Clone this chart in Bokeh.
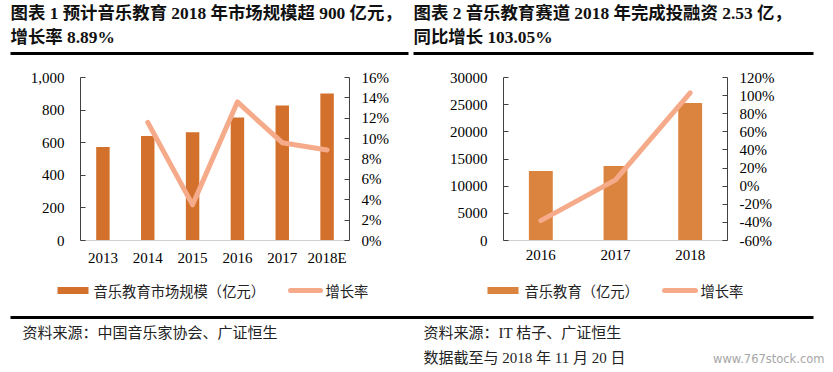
from bokeh.plotting import figure
from bokeh.models import (Range1d, FactorRange, LinearAxis, FixedTicker, NumeralTickFormatter,
                          ColumnDataSource)
from bokeh.layouts import column, row
from bokeh.core.properties import value
from bokeh.embed import file_html
from bokeh.resources import INLINE

# ---------------- data ----------------
years1 = ["2013", "2014", "2015", "2016", "2017", "2018E"]
market1 = [574, 641, 664, 754, 828, 902]
growth_years1 = ["2014", "2015", "2016", "2017", "2018E"]
growth1 = [0.116, 0.035, 0.136, 0.096, 0.0889]

years2 = ["2016", "2017", "2018"]
invest2 = [12800, 13700, 25300]
growth2 = [-0.38, 0.069, 1.0305]

y1_ticks = [0, 200, 400, 600, 800, 1000]
y1r_ticks = [0, 0.02, 0.04, 0.06, 0.08, 0.10, 0.12, 0.14, 0.16]
y2_ticks = [0, 5000, 10000, 15000, 20000, 25000, 30000]
y2r_ticks = [-0.6, -0.4, -0.2, 0, 0.2, 0.4, 0.6, 0.8, 1.0, 1.2]

title1_a = "图表 1 预计音乐教育 2018 年市场规模超 900 亿元，"
title1_b = "增长率 8.89%"
title2_a = "图表 2 音乐教育赛道 2018 年完成投融资 2.53 亿，"
title2_b = "同比增长 103.05%"
legend1 = ["音乐教育市场规模（亿元）", "增长率"]
legend2 = ["音乐教育（亿元）", "增长率"]
source1 = "资料来源：中国音乐家协会、广证恒生"
source2 = "资料来源：IT 桔子、广证恒生"
note2 = "数据截至与 2018 年 11 月 20 日"
watermark = "www.767stock.com"

# ---------------- style ----------------
SERIF = "Liberation Serif, Noto Sans CJK SC"
CJK = "Noto Sans CJK SC, Liberation Serif"
BAR1 = "#D3702C"
BAR2 = "#DB8440"
LINE = "#F5AA8A"
AXIS = "#404040"


def blank(width, height, y0, y1):
    p = figure(width=width, height=height, x_range=Range1d(0, width),
               y_range=Range1d(y1, y0), output_backend="svg", toolbar_location=None,
               x_axis_type=None, y_axis_type=None, title=None, min_border=0)
    p.min_border_left = p.min_border_right = p.min_border_top = p.min_border_bottom = 0
    p.outline_line_color = None
    p.grid.visible = False
    return p


# ---------------- header ----------------
header = blank(825, 58, 0, 58)
header.text(x=[10, 10, 413, 413], y=[12.5, 36, 12.5, 36],
            text=[title1_a, title1_b, title2_a, title2_b],
            text_font=value(SERIF), text_font_style="bold", text_font_size="17.4px",
            text_color="#111111", text_baseline="middle", text_align="left")
header.segment(x0=[10, 413], y0=[53, 53], x1=[408, 813], y1=[53, 53],
               line_color="black", line_width=3)


def style_axes(p, left_axis, right_axis):
    xa = p.xaxis[0]
    xa.axis_line_color = "#d0d0d0"
    xa.major_tick_line_color = None
    xa.minor_tick_line_color = None
    xa.major_label_standoff = 3
    xa.major_label_text_font = SERIF
    xa.major_label_text_font_size = "15px"
    xa.major_label_text_color = "black"
    for ax, st in ((left_axis, 16), (right_axis, 12)):
        ax.axis_line_color = AXIS
        ax.major_tick_line_color = AXIS
        ax.major_tick_in = 5
        ax.major_tick_out = 0
        ax.minor_tick_line_color = None
        ax.major_label_standoff = st
        ax.major_label_text_font = SERIF
        ax.major_label_text_font_size = "15px"
        ax.major_label_text_color = "black"
    p.grid.visible = False
    p.outline_line_color = None


# ---------------- chart 1 ----------------
p1 = figure(width=412, height=217, x_range=FactorRange(*years1), y_range=Range1d(0, 1000),
            output_backend="svg", toolbar_location=None, title=None,
            min_border_left=80, min_border_right=63, min_border_top=19, min_border_bottom=35)
p1.extra_y_ranges = {"pct": Range1d(0, 0.16)}
src1 = ColumnDataSource(dict(x=years1, y=market1))
b1 = p1.vbar(x="x", top="y", width=0.3, source=src1, fill_color=BAR1, line_color=None)
l1 = p1.line(x=growth_years1, y=growth1, y_range_name="pct", line_color=LINE, line_width=5,
             line_join="round", line_cap="round")
p1.yaxis[0].ticker = FixedTicker(ticks=y1_ticks)
p1.yaxis[0].formatter = NumeralTickFormatter(format="0,0")
r1 = LinearAxis(y_range_name="pct", ticker=FixedTicker(ticks=y1r_ticks),
                formatter=NumeralTickFormatter(format="0%"))
p1.add_layout(r1, "right")
style_axes(p1, p1.yaxis[0], r1)

# ---------------- chart 2 ----------------
p2 = figure(width=413, height=217, x_range=FactorRange(*years2), y_range=Range1d(0, 30000),
            output_backend="svg", toolbar_location=None, title=None,
            min_border_left=91, min_border_right=98, min_border_top=19, min_border_bottom=34)
p2.extra_y_ranges = {"pct": Range1d(-0.6, 1.2)}
src2 = ColumnDataSource(dict(x=years2, y=invest2))
b2 = p2.vbar(x="x", top="y", width=0.32, source=src2, fill_color=BAR2, line_color=None)
l2 = p2.line(x=years2, y=growth2, y_range_name="pct", line_color=LINE, line_width=5,
             line_join="round", line_cap="round")
p2.yaxis[0].ticker = FixedTicker(ticks=y2_ticks)
p2.yaxis[0].formatter = NumeralTickFormatter(format="0")
r2 = LinearAxis(y_range_name="pct", ticker=FixedTicker(ticks=y2r_ticks),
                formatter=NumeralTickFormatter(format="0%"))
p2.add_layout(r2, "right")
style_axes(p2, p2.yaxis[0], r2)

# ---------------- legends + footer ----------------
footer = blank(825, 92, 275, 367)
# legend swatches
footer.quad(left=[57, 487], right=[88, 518], top=[286.5, 286.5], bottom=[293.5, 293.5],
            fill_color=[BAR1, BAR2], line_color=None)
footer.segment(x0=[290, 664], y0=[290, 290], x1=[320, 695], y1=[290, 290],
               line_color=LINE, line_width=5, line_cap="round")
footer.text(x=[93, 325, 524, 700], y=[290, 290, 290, 290],
            text=[legend1[0], legend1[1], legend2[0], legend2[1]],
            text_font=value(CJK), text_font_size="14.3px", text_color="#222222",
            text_baseline="middle", text_align="left")
# rule and sources
footer.segment(x0=[10], y0=[317], x1=[813], y1=[317], line_color="black", line_width=3)
footer.text(x=[22, 423, 423], y=[332, 332, 357], text=[source1, source2, note2],
            text_font=value(SERIF), text_font_size="15px", text_color="#222222",
            text_baseline="middle", text_align="left")
footer.text(x=[824], y=[358], text=[watermark], text_font=value("DejaVu Sans"),
            text_font_size="11.5px", text_color="#a6a6a6", text_baseline="middle",
            text_align="right")

layout = column(header, row(p1, p2), footer)

with open("out.html", "w") as f:
    f.write(file_html(layout, INLINE))
